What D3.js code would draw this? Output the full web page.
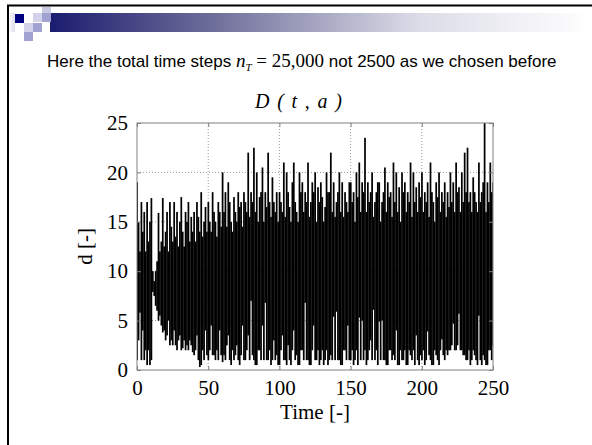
<!DOCTYPE html>
<html>
<head>
<meta charset="utf-8">
<script src="https://cdn.jsdelivr.net/npm/d3@7"></script>
<style>
  body { margin: 0; background: #fff; }
  svg { display: block; }
</style>
</head>
<body>
<div id="slide"></div>
<script>
// per time unit max / min of d (t = 0..250)
var dHigh = [
    19, 15, 12, 17, 14, 16, 12, 17, 13, 15,
    17.4, 10, 9, 10, 11, 15.9, 12, 13, 17.4, 12.5,
    14, 16, 12, 17, 14.5, 13, 17, 13.5, 16, 12.5,
    15, 17.5, 14, 12.5, 16, 15, 17, 13, 15.5, 14,
    16, 13, 17, 15.5, 14, 18, 13.5, 15, 16.5, 14,
    17, 15, 14, 18, 16, 15, 13.5, 17, 16, 14.5,
    20, 16, 18, 14.5, 19, 17, 15, 14, 17.5, 16,
    15, 18, 16.5, 17, 14.5, 18, 17, 16, 22, 15.5,
    18, 17, 22.5, 16, 20, 15, 17.5, 18, 20.5, 15,
    18, 16.5, 22, 17, 15.5, 19.5, 17, 16, 18, 15,
    18, 17, 16, 21, 15.5, 20, 18, 16.5, 15, 19,
    21, 17, 16, 15, 20, 18, 19, 16, 18, 17,
    21, 15.5, 17, 19, 18, 20, 15, 18.5, 17, 19,
    17.5, 15, 16.5, 20, 18, 18, 22, 16, 19, 15.5,
    17, 18, 20, 16, 19, 15.5, 18, 17, 16, 19,
    19, 17, 18, 15, 20, 17.5, 21, 16, 19, 18,
    23.5, 16, 19, 17, 18, 20, 15.5, 17, 18, 19,
    19, 15, 17, 18, 20.5, 16, 19, 17.5, 18, 15.5,
    21, 17, 20, 16, 18.5, 15, 20, 18, 19, 16,
    18, 17, 21, 15.5, 20, 17, 18.5, 16, 19, 17.5,
    20, 16, 18, 17, 19, 15.5, 21, 18, 17, 15,
    19, 17.5, 20, 16, 18, 17, 19, 15.5, 18, 16.5,
    20, 17, 19, 16, 21, 18, 18.5, 16, 20, 17,
    22, 18, 22.5, 17, 18, 16, 19.5, 18, 17, 16,
    21, 17, 18, 19, 25, 16, 19, 17, 21, 18,
    19];

var dLow = [
    1, 3, 5.8, 1, 4, 1, 2, 0.5, 2, 0.5,
    1, 7.9, 7.5, 6.5, 6, 5, 5.5, 4.5, 3.8, 4,
    3, 3.5, 5, 2.5, 3, 2.5, 4, 2.5, 2, 3,
    3.5, 2, 2.2, 3, 2, 2.5, 2, 3, 2.5, 1.8,
    1.5, 2, 3.5, 1, 0.3, 0.5, 2, 1, 4, 1.5,
    1, 2, 4.5, 1.5, 1.5, 1, 2, 1, 4, 1.5,
    0.8, 1.5, 1, 2.5, 3.5, 1, 0.5, 2, 1, 1.5,
    2.5, 1, 0.5, 1.5, 4.5, 1, 1, 2, 3.5, 1,
    7, 1.5, 1, 0.5, 0.5, 2, 2, 1, 4.5, 1,
    6.8, 1, 1, 2, 0.5, 1, 3, 1, 1.5, 0.5,
    0.5, 2, 3.5, 1, 1, 0.5, 2.5, 1, 0.5, 2,
    4, 1, 1.5, 0.5, 0.5, 2, 2, 1, 6.8, 1,
    1, 0.5, 0.5, 2, 4.5, 1, 1, 2, 0.5, 1,
    2, 0.5, 1, 2, 0.5, 1, 1.5, 1, 5.4, 1,
    5.9, 1, 1, 0.5, 0.5, 2, 2, 1, 4.5, 1,
    1, 2, 0.5, 1, 2, 0.5, 5.3, 1, 5, 1,
    2, 0.5, 1, 2, 3, 1, 6.1, 1, 2, 0.5,
    4.9, 1, 5, 1, 1, 0.5, 0.5, 2, 2, 1,
    1.5, 1, 4, 0.5, 0.5, 2, 1, 1, 2, 0.5,
    0.5, 2, 1.5, 1, 2, 0.5, 3.5, 1, 0.5, 1.5,
    1, 2, 0.5, 1, 3.9, 1.5, 1, 0.5, 0.5, 2,
    1.5, 1, 0.5, 2, 3.1, 1.5, 1, 2, 1.5, 2,
    2, 2.5, 4.7, 2, 2, 2.5, 5.7, 2, 2, 1.5,
    1.5, 1, 1, 2, 0.5, 1, 2, 1.5, 1, 0.5,
    5.5, 1, 0.5, 1.5, 1, 0.5, 0.5, 2, 2, 1,
    2.5];

var xTicks = [0, 50, 100, 150, 200, 250];
var yTicks = [0, 5, 10, 15, 20, 25];

var W = 592, H = 445;
var margin = { top: 123, right: 99, bottom: 75, left: 137 },
    width = W - margin.left - margin.right,
    height = H - margin.top - margin.bottom;

var svg = d3.select("#slide").append("svg")
    .attr("width", W)
    .attr("height", H);

// ---- slide decoration ----
var defs = svg.append("defs");
var grad = defs.append("linearGradient").attr("id", "barGrad");
grad.append("stop").attr("offset", "0%").attr("stop-color", "#1c1c70");
grad.append("stop").attr("offset", "30%").attr("stop-color", "#6e6e9a");
grad.append("stop").attr("offset", "68%").attr("stop-color", "#dcdce8");
grad.append("stop").attr("offset", "100%").attr("stop-color", "#ffffff");

var grad2 = defs.append("linearGradient").attr("id", "leftGrad");
grad2.append("stop").attr("offset", "0%").attr("stop-color", "#ffffff");
grad2.append("stop").attr("offset", "100%").attr("stop-color", "#dcdcee");

svg.append("rect").attr("x", 50).attr("y", 13).attr("width", W - 50).attr("height", 19)
    .attr("fill", "url(#barGrad)");
svg.append("rect").attr("x", 8).attr("y", 13).attr("width", 7).attr("height", 19)
    .attr("fill", "url(#leftGrad)");

var squares = [
    [42, 7, "#c8c8e2"], [15, 14, "#000080"], [33, 13, "#d2d2ea"], [42, 13, "#a2a2d2"],
    [24, 23, "#d2d2ea"], [33, 23, "#a2a2d2"], [24, 32, "#a2a2d2"]
];
svg.selectAll("rect.sq")
    .data(squares)
    .enter()
    .append("rect")
    .attr("class", "sq")
    .attr("x", function (d) { return d[0]; })
    .attr("y", function (d) { return d[1]; })
    .attr("width", 9)
    .attr("height", 9)
    .attr("fill", function (d) { return d[2]; });

// frame lines (top and left)
svg.append("line").attr("x1", 7).attr("x2", W).attr("y1", 5.5).attr("y2", 5.5)
    .attr("stroke", "#000").attr("stroke-width", 2);
svg.append("line").attr("x1", 8).attr("x2", 8).attr("y1", 5).attr("y2", H)
    .attr("stroke", "#000").attr("stroke-width", 2);

// ---- header sentence ----
var serif = "'Liberation Serif', 'Times New Roman', serif";
var sent = svg.append("text")
    .attr("x", 47)
    .attr("y", 67)
    .style("font-family", "'Liberation Sans', Arial, sans-serif")
    .style("font-size", "17px")
    .attr("fill", "#000");
sent.append("tspan").text("Here the total time steps ");
sent.append("tspan").text("n")
    .style("font-family", serif)
    .style("font-style", "italic").style("font-size", "19px");
sent.append("tspan").text("T").attr("dy", 4)
    .style("font-family", serif)
    .style("font-style", "italic").style("font-size", "11px");
sent.append("tspan").text(" = 25,000").attr("dy", -4)
    .style("font-family", serif)
    .style("font-size", "19px");
sent.append("tspan").text(" not 2500 as we chosen before");

// ---- plot ----
var x = d3.scaleLinear().domain([0, 250]).range([0, width]);
var y = d3.scaleLinear().domain([0, 25]).range([height, 0]);

var g = svg.append("g")
    .attr("transform", "translate(" + margin.left + "," + margin.top + ")");

defs.append("clipPath").attr("id", "plotClip")
    .append("rect").attr("width", width).attr("height", height);

// dotted grid
g.selectAll("line.gx")
    .data(xTicks.slice(1, -1))
    .enter()
    .append("line")
    .attr("x1", function (d) { return x(d); })
    .attr("x2", function (d) { return x(d); })
    .attr("y1", 0).attr("y2", height)
    .attr("stroke", "#9a9a9a").attr("stroke-dasharray", "1,2");
g.selectAll("line.gy")
    .data(yTicks.slice(1, -1))
    .enter()
    .append("line")
    .attr("x1", 0).attr("x2", width)
    .attr("y1", function (d) { return y(d); })
    .attr("y2", function (d) { return y(d); })
    .attr("stroke", "#9a9a9a").attr("stroke-dasharray", "1,2");

// signal: one vertical bar per time unit, from min to max
g.append("g")
    .attr("clip-path", "url(#plotClip)")
    .selectAll("rect")
    .data(dHigh)
    .enter()
    .append("rect")
    .attr("x", function (d, i) { return x(i - 0.5); })
    .attr("width", x(1) - x(0) + 0.3)
    .attr("y", function (d) { return y(d); })
    .attr("height", function (d, i) { return y(dLow[i]) - y(d); })
    .attr("fill", "#000");

// axes, ticks inward on all sides
function styleAxis(sel) {
    sel.select(".domain").remove();
    sel.selectAll(".tick line").attr("stroke", "#808080");
    sel.selectAll(".tick text")
        .style("font-family", serif)
        .style("font-size", "21px")
        .attr("fill", "#000");
}

g.append("g")
    .attr("transform", "translate(0," + height + ")")
    .call(d3.axisBottom(x).tickValues(xTicks).tickSize(-4).tickPadding(10))
    .call(styleAxis);
g.append("g")
    .call(d3.axisTop(x).tickValues(xTicks).tickSize(-4).tickFormat(""))
    .call(styleAxis);
g.append("g")
    .call(d3.axisLeft(y).tickValues(yTicks).tickSize(-4).tickPadding(9))
    .call(styleAxis);
g.append("g")
    .attr("transform", "translate(" + width + ",0)")
    .call(d3.axisRight(y).tickValues(yTicks).tickSize(-4).tickFormat(""))
    .call(styleAxis);

g.append("rect")
    .attr("width", width).attr("height", height)
    .attr("fill", "none").attr("stroke", "#808080");

// titles
svg.append("text")
    .attr("x", 255)
    .attr("y", 108)
    .attr("textLength", 87)
    .attr("lengthAdjust", "spacing")
    .style("font-family", serif)
    .style("font-style", "italic")
    .style("font-size", "20px")
    .text("D ( t , a )");

svg.append("text")
    .attr("x", margin.left + width / 2)
    .attr("y", 419)
    .attr("text-anchor", "middle")
    .style("font-family", serif)
    .style("font-size", "21px")
    .text("Time [-]");

svg.append("text")
    .attr("transform", "translate(92," + (margin.top + height / 2) + ") rotate(-90)")
    .attr("text-anchor", "middle")
    .style("font-family", serif)
    .style("font-size", "21px")
    .text("d [-]");
</script>
</body>
</html>
